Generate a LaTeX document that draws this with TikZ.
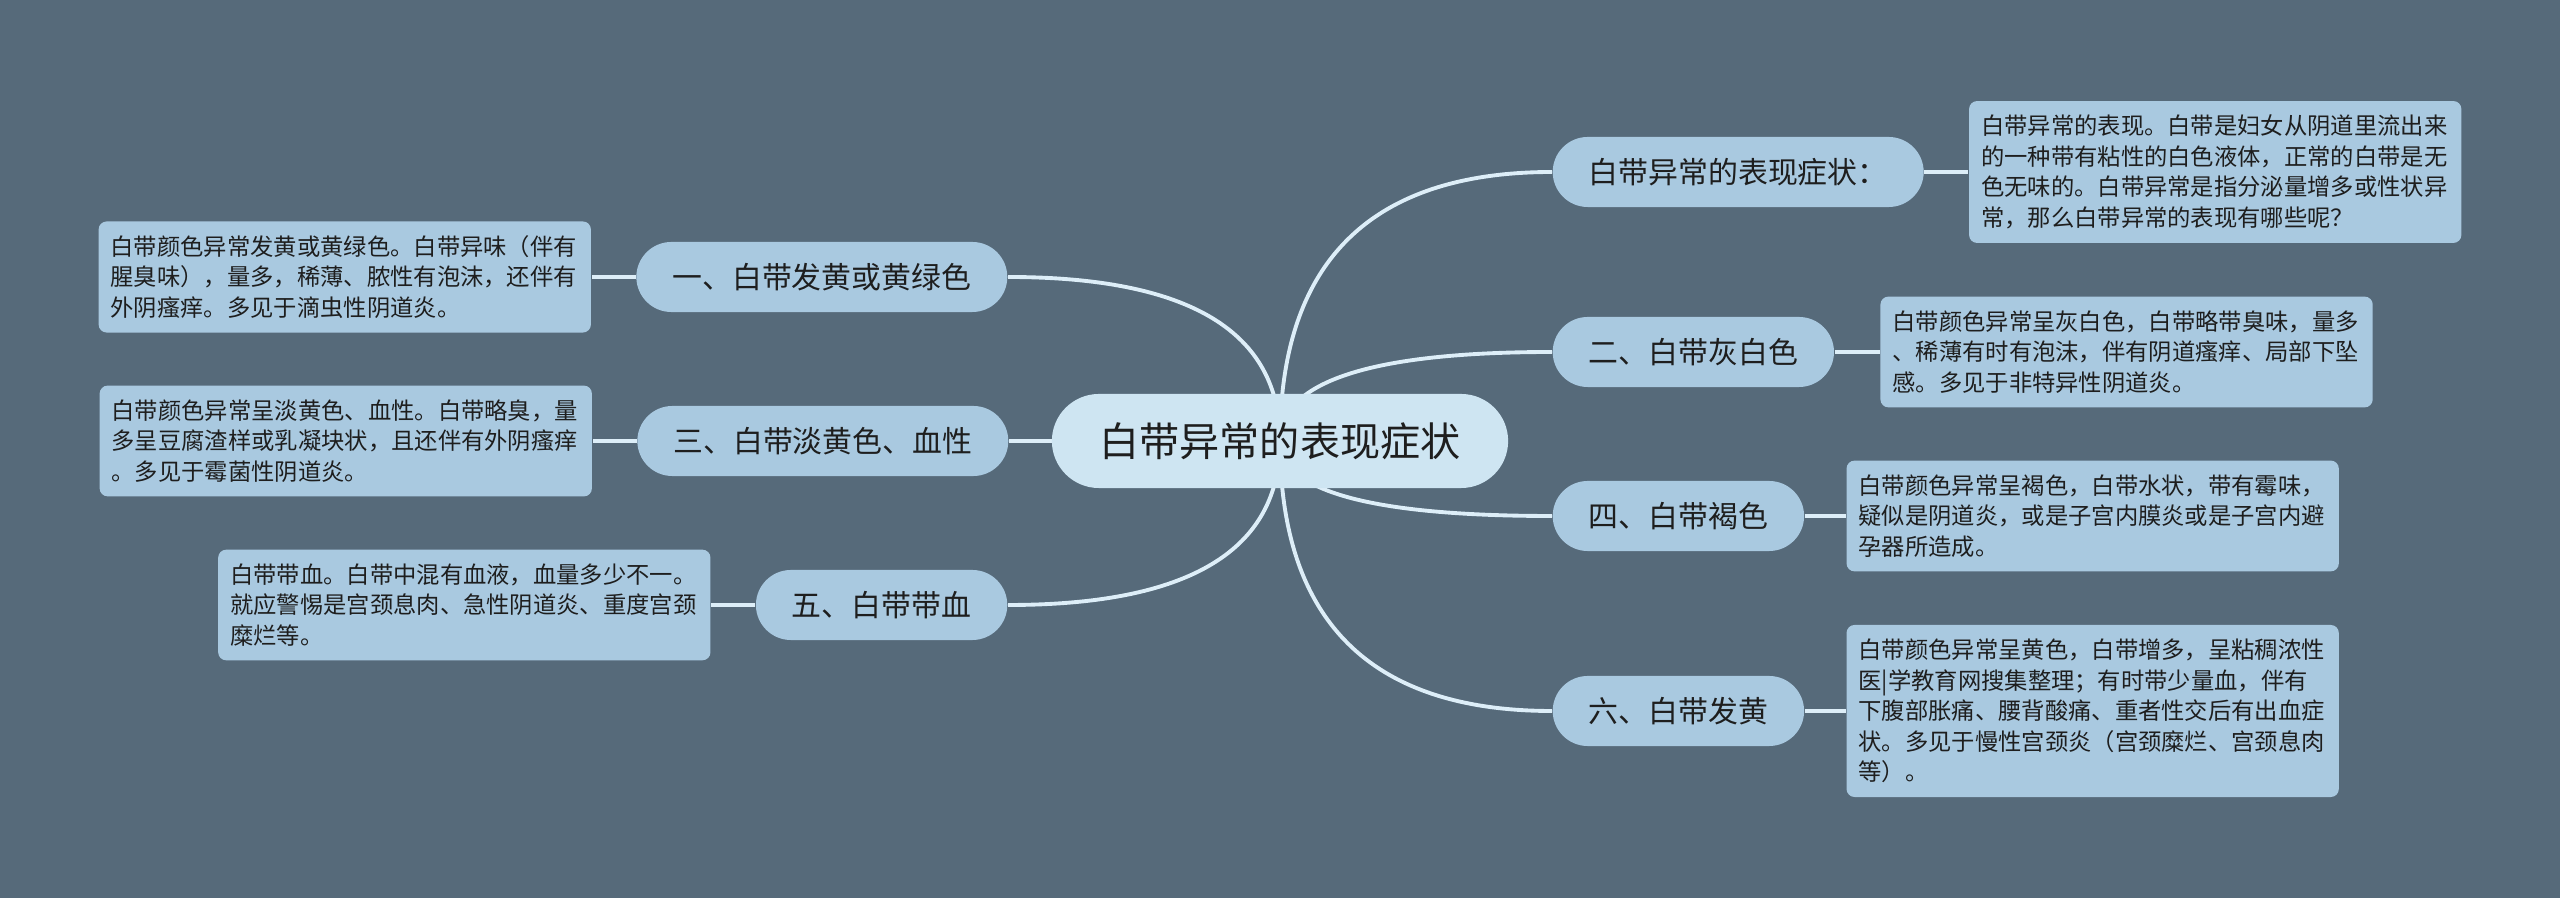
\documentclass[tikz,border=0pt]{standalone}
\usepackage{fontspec}
\newfontfamily\cjk{Noto Sans CJK SC}
\usetikzlibrary{positioning,calc,backgrounds}
\definecolor{slate}{HTML}{566A7A}
\definecolor{hubfill}{HTML}{CEE5F2}
\definecolor{boxfill}{HTML}{A9C9E0}
\definecolor{linecol}{HTML}{DDEEF8}
\definecolor{ink}{HTML}{1E1E1E}
\begin{document}
\begin{tikzpicture}[
    x=0.01cm, y=-0.01cm,
    hub/.style={fill=hubfill, rounded corners=0.47cm, minimum width=4.56cm, minimum height=0.94cm, inner sep=0pt, text=ink, font=\cjk\fontsize{11.4pt}{14pt}\selectfont},
    branch/.style={fill=boxfill, rounded corners=0.35cm, minimum height=0.70cm, inner xsep=0.36cm, inner ysep=0pt, text=ink, font=\cjk\fontsize{8.5pt}{10pt}\selectfont},
    leaf/.style={fill=boxfill, rounded corners=0.08cm, text width=4.68cm, inner xsep=0.12cm, inner ysep=0.14cm, align=left, text=ink, font=\cjk\fontsize{6.63pt}{8.68pt}\selectfont},
    link/.style={draw=linecol, line width=1.1pt},
]
\useasboundingbox (0,0) rectangle (2560,898);

% Central topic
\node[hub] (hub) at (1280,441) {白带异常的表现症状};

% --- right side ---
\node[branch, anchor=west] (b0) at (1552,172) {白带异常的表现症状：};
\node[branch, anchor=west] (b2) at (1552,352) {二、白带灰白色};
\node[branch, anchor=west] (b4) at (1552,516) {四、白带褐色};
\node[branch, anchor=west] (b6) at (1552,711) {六、白带发黄};

\node[leaf, right=0.44cm of b0] (l0) {白带异常的表现。白带是妇女从阴道里流出来\\的一种带有粘性的白色液体，正常的白带是无\\色无味的。白带异常是指分泌量增多或性状异\\常，那么白带异常的表现有哪些呢？};
\node[leaf, right=0.45cm of b2] (l2) {白带颜色异常呈灰白色，白带略带臭味，量多\\、稀薄有时有泡沫，伴有阴道瘙痒、局部下坠\\感。多见于非特异性阴道炎。};
\node[leaf, right=0.41cm of b4] (l4) {白带颜色异常呈褐色，白带水状，带有霉味，\\疑似是阴道炎，或是子宫内膜炎或是子宫内避\\孕器所造成。};
\node[leaf, right=0.41cm of b6] (l6) {白带颜色异常呈黄色，白带增多，呈粘稠浓性\\医|学教育网搜集整理；有时带少量血，伴有\\下腹部胀痛、腰背酸痛、重者性交后有出血症\\状。多见于慢性宫颈炎（宫颈糜烂、宫颈息肉\\等）。};

% --- left side ---
\node[branch, anchor=east] (b1) at (1008,277) {一、白带发黄或黄绿色};
\node[branch, anchor=east] (b3) at (1009,441) {三、白带淡黄色、血性};
\node[branch, anchor=east] (b5) at (1008,605) {五、白带带血};

\node[leaf, left=0.44cm of b1] (l1) {白带颜色异常发黄或黄绿色。白带异味（伴有\\腥臭味），量多，稀薄、脓性有泡沫，还伴有\\外阴瘙痒。多见于滴虫性阴道炎。};
\node[leaf, left=0.44cm of b3] (l3) {白带颜色异常呈淡黄色、血性。白带略臭，量\\多呈豆腐渣样或乳凝块状，且还伴有外阴瘙痒\\。多见于霉菌性阴道炎。};
\node[leaf, left=0.44cm of b5] (l5) {白带带血。白带中混有血液，血量多少不一。\\就应警惕是宫颈息肉、急性阴道炎、重度宫颈\\糜烂等。};

% Connectors behind the nodes
\begin{pgfonlayer}{background}
\fill[slate] (0,0) rectangle (2560,898);
\foreach \b/\a in {b0/west,b2/west,b4/west,b6/west,b1/east,b3/east,b5/east}
  \draw[link] (hub.center) .. controls ($(hub.center)!0.667!(hub.center |- \b.\a)$) and ($(\b.\a)!0.667!(hub.center |- \b.\a)$) .. (\b.\a);
\foreach \b/\l in {b0/l0,b2/l2,b4/l4,b6/l6}
  \draw[link] (\b.east) -- (\l.west);
\foreach \b/\l in {b1/l1,b3/l3,b5/l5}
  \draw[link] (\b.west) -- (\l.east);
\end{pgfonlayer}

\end{tikzpicture}
\end{document}
